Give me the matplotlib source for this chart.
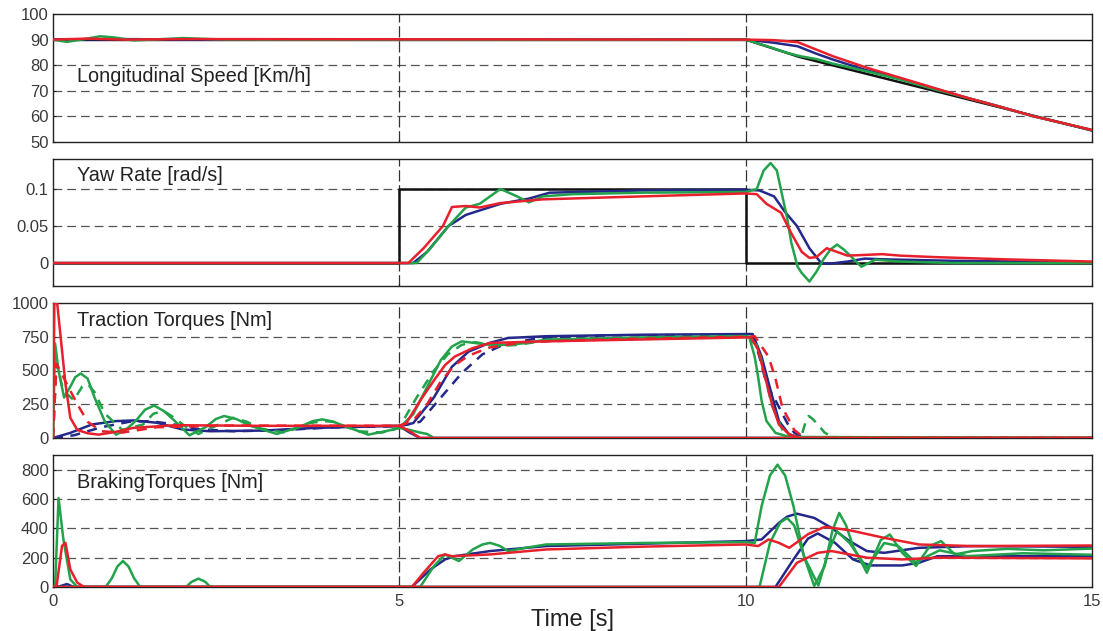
import matplotlib
matplotlib.use("Agg")
import matplotlib.pyplot as plt

plt.rcParams['font.family'] = ['Liberation Sans', 'DejaVu Sans']

BLUE = '#23288a'
GREEN = '#22a24a'
RED = '#e8202c'
BLACK = '#111111'

# ---------------- Panel 1: Longitudinal speed ----------------
spd_black_t = [0, 10, 10.78, 15]
spd_black = [90, 90, 83.2, 54.5]
spd_blue_t = [0, 1, 2, 10, 10.4, 10.75, 11.02, 11.26, 11.75, 12.23, 12.71, 13.19, 13.67, 14.15, 15]
spd_blue = [90, 90.2, 90, 90, 88.8, 87.4, 84.5, 82.2, 78, 74.8, 71, 67.3, 63.8, 60.1, 54.6]
spd_green_t = [0, 0.2, 0.45, 0.68, 0.9, 1.16, 1.5, 1.88, 2.36, 3, 10, 10.31, 10.6, 10.79,
               11.02, 11.26, 11.75, 12.23, 12.71, 13.19, 13.67, 14.15, 15]
spd_green = [90, 89.1, 90.2, 91.3, 90.8, 89.7, 90.1, 90.6, 90.1, 90, 90, 87.4, 84.8, 83.5,
             82.4, 80.6, 77.6, 74.4, 70.7, 67.3, 63.8, 60.1, 54.7]
spd_red_t = [0, 0.5, 1, 2, 10, 10.4, 10.75, 11.02, 11.26, 11.75, 12.23, 12.71, 13.19, 13.67, 14.15, 15]
spd_red = [90, 90.4, 90, 90.2, 90, 89.8, 89, 86.1, 83.5, 79, 75.1, 71.2, 67.3, 63.8, 60.1, 54.7]

# ---------------- Panel 2: Yaw rate ----------------
yaw_ref_t = [0, 5, 5, 10, 10, 15]
yaw_ref = [0, 0, 0.1, 0.1, 0, 0]
yaw_blue_t = [0, 5.2, 5.4, 5.71, 5.96, 6.46, 6.87, 7.17, 8.5, 10.0, 10.2, 10.41, 10.56, 10.74,
              10.92, 11.09, 11.2, 11.47, 11.72, 12.0, 13, 15]
yaw_blue = [0, 0, 0.015, 0.05, 0.065, 0.08, 0.087, 0.095, 0.098, 0.099, 0.098, 0.09, 0.07, 0.05,
            0.02, 0.0, -0.001, 0.002, 0.006, 0.005, 0.003, 0.001]
yaw_green_t = [0, 5.25, 5.45, 5.71, 5.96, 6.16, 6.46, 6.7, 6.87, 7.07, 7.5, 8.5, 10.0, 10.16,
               10.26, 10.36, 10.45, 10.51, 10.6, 10.66, 10.75, 10.81, 10.92, 11.02, 11.12, 11.22,
               11.32, 11.42, 11.52, 11.67, 11.87, 12.23, 13, 15]
yaw_green = [0, 0, 0.02, 0.05, 0.075, 0.08, 0.1, 0.09, 0.082, 0.09, 0.093, 0.095, 0.096, 0.1,
             0.125, 0.135, 0.125, 0.099, 0.06, 0.027, -0.005, -0.0135, -0.025, -0.012, 0.0045, 0.018,
             0.025, 0.018, 0.009, -0.005, 0.0045, 0.002, 0.0, 0.0]
yaw_red_t = [0, 5.13, 5.35, 5.63, 5.76, 5.96, 6.16, 6.46, 7.07, 8.5, 10.0, 10.16, 10.3, 10.51,
             10.66, 10.81, 10.92, 11.02, 11.17, 11.47, 11.97, 12.23, 12.74, 13.75, 15]
yaw_red = [0, 0, 0.02, 0.05, 0.0757, 0.077, 0.075, 0.081, 0.086, 0.09, 0.094, 0.093, 0.08, 0.068,
           0.04, 0.015, 0.007, 0.008, 0.02, 0.01, 0.012, 0.01, 0.008, 0.005, 0.002]

# ---------------- Panel 3: Traction torques ----------------
tq_blue_t = [0, 0.25, 0.56, 0.9, 1.16, 1.5, 1.87, 2.27, 3.03, 3.79, 4.8, 5.0, 5.2, 5.5, 5.76,
             6.0, 6.3, 6.57, 7.12, 8.5, 10.0, 10.1, 10.23, 10.36, 10.48, 10.63, 10.84, 15]
tq_blue = [0, 38, 100, 125, 130, 113, 63, 50, 55, 75, 88, 90, 110, 301, 528,
           640, 704, 741, 754, 765, 770, 770, 603, 352, 126, 25, 0, 0]
tq_blue_d_t = [0, 0.3, 0.7, 1.1, 1.4, 1.7, 2.1, 2.6, 3.3, 4.0, 5.0, 5.3, 5.6, 5.9, 6.2, 6.5,
               7.0, 8, 10.0, 10.1, 10.2, 10.3, 10.45, 10.6, 10.7, 10.85, 15]
tq_blue_d = [0, 20, 80, 120, 125, 105, 65, 50, 58, 78, 88, 120, 300, 480, 620, 690,
             740, 760, 765, 765, 600, 400, 260, 110, 40, 0, 0]
tq_blue_off_t = [4.8, 5.0, 5.15, 5.3, 15]
tq_blue_off = [88, 88, 40, 0, 0]

tq_green_t = [0, 0.03, 0.08, 0.16, 0.25, 0.32, 0.4, 0.5, 0.6, 0.75, 0.91, 1.05, 1.2, 1.33, 1.46,
              1.6, 1.75, 1.97, 2.2, 2.35, 2.47, 2.65, 2.85, 3.23, 3.55, 3.75, 3.89, 4.05, 4.2,
              4.55, 4.8, 5.0, 5.2, 5.4, 5.6, 5.76, 5.9, 6.1, 6.31, 6.57, 6.82, 7.12, 8.5, 10.0,
              10.05, 10.13, 10.18, 10.23, 10.3, 10.43, 10.63, 15]
tq_green = [0, 700, 500, 300, 380, 450, 478, 440, 300, 120, 25, 60, 130, 210, 240,
            200, 130, 20, 80, 140, 163, 140, 90, 30, 80, 125, 138, 120, 90,
            25, 50, 75, 176, 377, 578, 678, 716, 703, 690, 690, 703, 729, 745, 755,
            750, 603, 452, 276, 126, 38, 8, 0]
tq_green_d_t = [0, 0.05, 0.15, 0.3, 0.42, 0.5, 0.6, 0.75, 1.0, 1.3, 1.45, 1.6, 1.75, 1.9,
                2.1, 2.35, 2.6, 2.8, 3.0, 3.35, 3.7, 3.9, 4.05, 4.4, 4.75, 5.0, 5.25, 5.5,
                5.7, 5.9, 6.1, 6.4, 6.7, 7.1, 8.5, 10.0, 10.18, 10.28, 10.38, 10.53, 10.74,
                10.8, 10.86, 10.91, 10.97, 11.04, 11.14, 11.24, 11.4, 15]
tq_green_d = [0, 550, 350, 280, 380, 400, 340, 180, 60, 100, 180, 200, 150, 90,
              30, 90, 150, 120, 70, 40, 110, 125, 120, 50, 40, 80, 300, 500,
              620, 690, 710, 680, 690, 720, 740, 750, 680, 450, 240, 60, 0,
              5, 110, 163, 140, 100, 40, 10, 0, 0]
tq_green_off_t = [4.9, 5.0, 5.15, 5.3, 5.4, 5.5, 15]
tq_green_off = [60, 75, 60, 40, 30, 0, 0]

tq_red_t = [0, 0.02, 0.06, 0.12, 0.18, 0.25, 0.35, 0.5, 0.66, 0.9, 1.16, 1.77, 3, 4, 5.0,
            5.1, 5.3, 5.5, 5.66, 5.8, 6.06, 6.31, 7.12, 8.5, 10.0, 10.08, 10.18, 10.28,
            10.38, 10.48, 10.63, 10.79, 15]
tq_red = [0, 1000, 1000, 700, 400, 150, 60, 35, 25, 45, 75, 95, 90, 90, 90,
          110, 276, 427, 540, 603, 666, 704, 716, 730, 745, 745, 653, 452,
          251, 100, 25, 0, 0]
tq_red_d_t = [0, 0.05, 0.12, 0.25, 0.38, 0.5, 0.7, 1.0, 1.5, 2.5, 5.0, 5.2, 5.4, 5.6, 5.8,
              6.0, 6.3, 6.8, 8, 10.0, 10.13, 10.33, 10.43, 10.53, 10.7, 10.85, 15]
tq_red_d = [0, 550, 480, 350, 225, 120, 50, 40, 80, 92, 90, 130, 250, 420, 540,
            610, 670, 710, 730, 750, 754, 603, 440, 226, 60, 0, 0]
tq_red_off_t = [5.0, 5.15, 5.3, 15]
tq_red_off = [90, 50, 0, 0]

# ---------------- Panel 4: Braking torques ----------------
br_blue_a_t = [0, 5.18, 5.45, 5.66, 5.8, 6.31, 7.12, 8.5, 10.0, 10.23, 10.48, 10.6, 10.74,
               10.99, 11.24, 11.5, 11.75, 12.0, 12.5, 13.27, 15]
br_blue_a = [0, 0, 120, 188, 210, 245, 279, 295, 313, 324, 437, 480, 500,
             471, 403, 313, 245, 233, 267, 279, 274]
br_blue_b_t = [0, 0.1, 0.2, 0.3, 10.43, 10.69, 10.9, 11.04, 11.29, 11.55, 11.8, 12.26, 12.5,
               12.77, 15]
br_blue_b = [0, 5, 20, 0, 0, 188, 330, 365, 301, 188, 147, 147, 165, 210, 210]

br_green_a_t = [0, 0.03, 0.08, 0.15, 0.25, 0.35, 0.76, 0.85, 0.93, 1.01, 1.09, 1.17, 1.26,
                1.92, 2.0, 2.1, 2.2, 2.27, 5.3, 5.5, 5.66, 5.86, 6.06, 6.2, 6.31, 6.45,
                6.57, 6.82, 7.12, 8.5, 10.0, 10.13, 10.23, 10.35, 10.46, 10.57, 10.69,
                10.84, 10.99, 11.14, 11.25, 11.35, 11.45, 11.55, 11.75, 11.95, 12.08,
                12.26, 12.46, 12.66, 12.82, 13.02, 13.27, 13.78, 14.3, 15]
br_green_a = [0, 0, 607, 324, 52, 0, 0, 60, 140, 177, 140, 60, 0,
              0, 35, 57, 35, 0, 0, 143, 222, 177, 256, 290, 301, 280,
              245, 267, 290, 300, 306, 300, 551, 760, 834, 760, 551,
              211, 7, 143, 380, 505, 420, 279, 97, 320, 358,
              233, 143, 280, 313, 222, 245, 260, 250, 262]
br_green_b_t = [0, 10.2, 10.35, 10.5, 10.6, 10.7, 10.85, 11.05, 11.2, 11.32, 11.5, 11.75,
                12.0, 12.2, 12.45, 12.8, 13.2, 14, 15]
br_green_b = [0, 0, 300, 440, 470, 420, 200, 10, 250, 380, 300, 130,
              300, 280, 170, 250, 210, 230, 220]

br_red_a_t = [0, 5.18, 5.35, 5.56, 5.66, 5.76, 6.31, 7.12, 8.5, 10.0, 10.18, 10.33, 10.48,
              10.63, 10.9, 11.14, 11.5, 12.0, 12.5, 13.27, 15]
br_red_a = [0, 0, 97, 210, 222, 210, 222, 256, 275, 290, 279, 324, 301,
            267, 360, 410, 387, 335, 290, 279, 283]
br_red_b_t = [0, 0.05, 0.13, 0.18, 0.25, 0.35, 0.45, 10.48, 10.74, 11.04, 11.24, 11.75,
              12.26, 12.77, 15]
br_red_b = [0, 0, 280, 301, 120, 30, 0, 0, 165, 233, 245, 200, 188, 200, 195]

# ---------------- Figure ----------------
fig = plt.figure(figsize=(11.03, 6.31), dpi=100)
L, W = 53 / 1103, (1092 - 53) / 1103
boxes = [(14, 142), (159, 286), (303, 438), (455, 587)]
axes = [fig.add_axes([L, 1 - b / 631, W, (b - t) / 631]) for t, b in boxes]

LW = 1.8
GRID_KW = dict(color='#555555', lw=0.9, dashes=(7, 4), zorder=1)
VLINE_KW = dict(color='#333333', lw=0.9, dashes=(9, 3), zorder=1)
TITLE_KW = dict(fontsize=14.3, color='#222222', va='center', ha='left')

# panel 1
ax = axes[0]
ax.set_ylim(50, 100)
ax.set_yticks([50, 60, 70, 80, 90, 100])
for g in [60, 70, 80]:
    ax.axhline(g, **GRID_KW)
ax.axhline(90, color=BLACK, lw=1.0, zorder=1)
ax.plot(spd_black_t, spd_black, color=BLACK, lw=LW, zorder=2)
ax.plot(spd_blue_t, spd_blue, color=BLUE, lw=LW, zorder=3)
ax.plot(spd_green_t, spd_green, color=GREEN, lw=LW, zorder=4)
ax.plot(spd_red_t, spd_red, color=RED, lw=LW, zorder=5)
ax.text(0.023, 0.508, 'Longitudinal Speed [Km/h]', transform=ax.transAxes, **TITLE_KW)

# panel 2
ax = axes[1]
ax.set_ylim(-0.031, 0.1405)
ax.set_yticks([0, 0.05, 0.1])
ax.set_yticklabels(['0', '0.05', '0.1'])
for g in [0.05, 0.1]:
    ax.axhline(g, **GRID_KW)
ax.axhline(0, color='#333333', lw=0.9, zorder=1)
ax.plot(yaw_ref_t, yaw_ref, color=BLACK, lw=LW, zorder=2)
ax.plot(yaw_blue_t, yaw_blue, color=BLUE, lw=LW, zorder=3)
ax.plot(yaw_green_t, yaw_green, color=GREEN, lw=LW, zorder=4)
ax.plot(yaw_red_t, yaw_red, color=RED, lw=LW, zorder=5)
ax.text(0.023, 0.874, 'Yaw Rate [rad/s]', transform=ax.transAxes, **TITLE_KW)

# panel 3
ax = axes[2]
ax.set_ylim(0, 1000)
ax.set_yticks([0, 250, 500, 750, 1000])
for g in [250, 500, 750]:
    ax.axhline(g, **GRID_KW)
ax.plot(tq_blue_t, tq_blue, color=BLUE, lw=LW, zorder=3)
ax.plot(tq_blue_d_t, tq_blue_d, color=BLUE, lw=LW, ls=(0, (4, 3)), zorder=3)
ax.plot(tq_blue_off_t, tq_blue_off, color=BLUE, lw=LW, zorder=3)
ax.plot(tq_green_t, tq_green, color=GREEN, lw=LW, zorder=4)
ax.plot(tq_green_d_t, tq_green_d, color=GREEN, lw=LW, ls=(0, (4, 3)), zorder=4)
ax.plot(tq_green_off_t, tq_green_off, color=GREEN, lw=LW, zorder=4)
ax.plot(tq_red_t, tq_red, color=RED, lw=LW, zorder=5)
ax.plot(tq_red_d_t, tq_red_d, color=RED, lw=LW, ls=(0, (4, 3)), zorder=5)
ax.plot(tq_red_off_t, tq_red_off, color=RED, lw=LW, zorder=5)
ax.text(0.023, 0.874, 'Traction Torques [Nm]', transform=ax.transAxes, **TITLE_KW)

# panel 4
ax = axes[3]
ax.set_ylim(0, 900)
ax.set_yticks([0, 200, 400, 600, 800])
for g in [200, 400, 600, 800]:
    ax.axhline(g, **GRID_KW)
ax.plot(br_blue_a_t, br_blue_a, color=BLUE, lw=LW, zorder=3)
ax.plot(br_blue_b_t, br_blue_b, color=BLUE, lw=LW, zorder=3)
ax.plot(br_green_a_t, br_green_a, color=GREEN, lw=LW, zorder=4)
ax.plot(br_green_b_t, br_green_b, color=GREEN, lw=LW, zorder=4)
ax.plot(br_red_a_t, br_red_a, color=RED, lw=LW, zorder=5)
ax.plot(br_red_b_t, br_red_b, color=RED, lw=LW, zorder=5)
ax.text(0.023, 0.788, 'BrakingTorques [Nm]', transform=ax.transAxes, **TITLE_KW)
ax.set_xlabel('Time [s]', fontsize=17, color='#222222', labelpad=0)

for i, ax in enumerate(axes):
    ax.set_xlim(0, 15)
    ax.axvline(5, **VLINE_KW)
    ax.axvline(10, **VLINE_KW)
    ax.set_xticks([0, 5, 10, 15])
    ax.tick_params(direction='in', length=2, labelsize=12, colors='#222222',
                   labelcolor='#3a3a3a')
    ax.tick_params(axis='y', pad=3)
    ax.tick_params(axis='x', pad=5)
    if i < 3:
        ax.tick_params(labelbottom=False)
    for s in ax.spines.values():
        s.set_color('#222222')
        s.set_linewidth(1.0)

fig.savefig('out.png', dpi=100)
